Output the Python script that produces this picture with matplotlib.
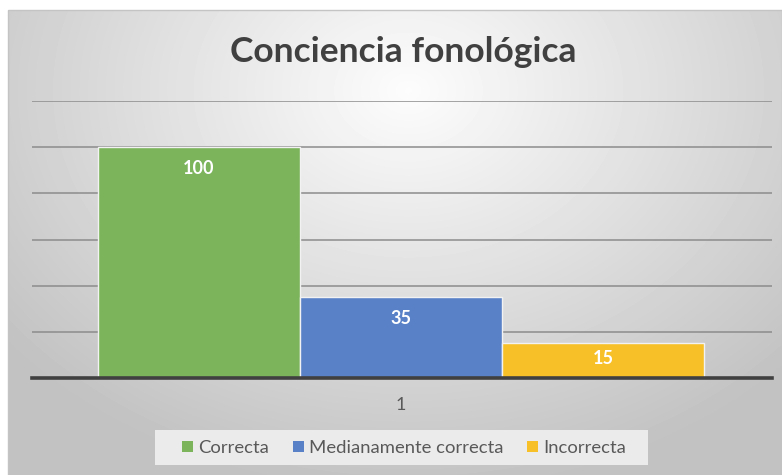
import numpy as np
import matplotlib.pyplot as plt
from matplotlib.patches import Patch, Rectangle

# data
categories = ["1"]
series = ["Correcta", "Medianamente correcta", "Incorrecta"]
values = [100, 35, 15]
colors = ["#7BB45A", "#5881C8", "#F7C028"]

plt.rcParams['font.family'] = ['Lato', 'DejaVu Sans']

W, H = 782, 475
fig = plt.figure(figsize=(W / 100, H / 100), dpi=100)
fig.patch.set_facecolor("white")

# chart area background: soft radial gradient, light at top centre
bg = fig.add_axes([8 / W, 0, (W - 8) / W, (H - 10) / H], zorder=-2)
yy, xx = np.mgrid[0:H - 10, 0:W - 8]
d = np.sqrt(((xx - 400) / 540) ** 2 + ((yy - 80) / 420) ** 2)
shade = np.clip(0.99 - 0.24 * d, 0.76, 1.0)
bg.imshow(shade, cmap="gray", vmin=0, vmax=1, aspect="auto", interpolation="bilinear")
bg.set_axis_off()
fig.patches.append(Rectangle((8 / W, 0), (W - 8) / W, (H - 10) / H, transform=fig.transFigure,
                             fill=False, edgecolor="#c4c4c4", linewidth=1.0, zorder=-1))

# legend background box
fig.patches.append(Rectangle((155 / W, 1 - 465 / H), 493 / W, 35 / H, transform=fig.transFigure,
                             facecolor="#ebebeb", edgecolor="none", zorder=-1))

# plot area
ax = fig.add_axes([32 / W, 1 - 378 / H, 740 / W, 277 / H])
ax.patch.set_alpha(0)
n = len(series)
offsets = np.arange(n) - (n - 1) / 2
for off, val, col, name in zip(offsets, values, colors, series):
    ax.bar(off, val, width=1.0, color=col, edgecolor="#f2f2f2", linewidth=1.0, label=name, zorder=2)
    ax.annotate(str(val), (off, val), xytext=(0, -21 if val > 20 else -15), textcoords="offset pixels",
                ha="center", va="center", color="white", fontsize=13, fontweight="bold", zorder=3)

ax.set_ylim(0, 120)
ax.set_xlim(-1.827, 1.837)
ax.set_yticks(np.arange(0, 121, 20))
ax.set_yticklabels([])
ax.tick_params(axis="y", length=0)
ax.grid(axis="y", color="#8c8c8c", linewidth=1.1, zorder=0)
ax.set_xticks([0])
ax.set_xticklabels(categories, fontsize=13, color="#595959")
ax.tick_params(axis="x", length=0, pad=14)
for s in ["top", "right", "left"]:
    ax.spines[s].set_visible(False)
ax.spines["bottom"].set_color("#404040")
ax.spines["bottom"].set_linewidth(2.6)
ax.spines["bottom"].set_zorder(4)

fig.text(403 / W, 1 - 52 / H, "Conciencia fonológica", ha="center", va="center",
         fontsize=25.5, fontweight="bold", color="#404040")

handles = [Patch(facecolor=c, edgecolor="none") for c in colors]
leg = fig.legend(handles, series, loc="center", bbox_to_anchor=(404 / W, 1 - 448 / H), ncol=3,
                 frameon=False, fontsize=13.3, handlelength=0.6, handleheight=0.6, handletextpad=0.25,
                 columnspacing=1.3)
for t in leg.get_texts():
    t.set_color("#595959")

fig.savefig("out.png", dpi=100)
